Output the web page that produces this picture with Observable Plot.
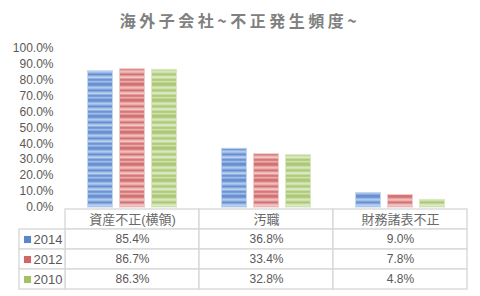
<!DOCTYPE html>
<html>
<head>
<meta charset="utf-8">
<script src="https://cdn.jsdelivr.net/npm/d3@7"></script>
<script src="https://cdn.jsdelivr.net/npm/@observablehq/plot@0.6"></script>
<style>
  html, body { margin: 0; padding: 0; background: #fff; }
  #wrap { position: relative; width: 480px; height: 296px; overflow: hidden; }
  #title { position: absolute; left: 0; top: 0; width: 480px; height: 40px; line-height: 41px; text-align: center;
    font-family: "Noto Sans CJK JP", sans-serif; font-weight: bold; font-size: 16px; letter-spacing: 3.5px; color: #808080; }
  #chart { position: absolute; left: 0; top: 36px; }
  #table { position: absolute; left: 0; top: 206px; }
</style>
</head>
<body>
<svg width="0" height="0" style="position:absolute">
  <defs>
    <pattern id="p2014" patternUnits="userSpaceOnUse" width="4" height="16">
      <rect width="4" height="16" fill="#7ba1da"/>
      <rect y="0" width="4" height="1" fill="#6690d2"/>
      <rect y="1" width="4" height="1" fill="#7199d6"/>
      <rect y="2" width="4" height="1" fill="#98b6e4"/>
      <rect y="3" width="4" height="1" fill="#b3c9ec"/>
      <rect y="4" width="4" height="1" fill="#a2bde7"/>
      <rect y="5" width="4" height="1" fill="#7fa4db"/>
      <rect y="6" width="4" height="1" fill="#6690d2"/>
      <rect y="7" width="4" height="1" fill="#86a9dd"/>
      <rect y="8" width="4" height="1" fill="#aac3ea"/>
      <rect y="9" width="4" height="1" fill="#bcd0ee"/>
      <rect y="10" width="4" height="1" fill="#93b2e2"/>
      <rect y="11" width="4" height="1" fill="#6c95d4"/>
      <rect y="12" width="4" height="1" fill="#779fd8"/>
      <rect y="13" width="4" height="1" fill="#a0bbe6"/>
      <rect y="14" width="4" height="1" fill="#8aacde"/>
      <rect y="15" width="4" height="1" fill="#6690d2"/>
    </pattern>
    <pattern id="p2012" patternUnits="userSpaceOnUse" width="4" height="16">
      <rect width="4" height="16" fill="#de8a8a"/>
      <rect y="0" width="4" height="1" fill="#d47272"/>
      <rect y="1" width="4" height="1" fill="#d87c7c"/>
      <rect y="2" width="4" height="1" fill="#e6a4a4"/>
      <rect y="3" width="4" height="1" fill="#eebebe"/>
      <rect y="4" width="4" height="1" fill="#e9b0b0"/>
      <rect y="5" width="4" height="1" fill="#dd8c8c"/>
      <rect y="6" width="4" height="1" fill="#d47272"/>
      <rect y="7" width="4" height="1" fill="#e09494"/>
      <rect y="8" width="4" height="1" fill="#ecb8b8"/>
      <rect y="9" width="4" height="1" fill="#f1c6c6"/>
      <rect y="10" width="4" height="1" fill="#e39e9e"/>
      <rect y="11" width="4" height="1" fill="#d67878"/>
      <rect y="12" width="4" height="1" fill="#da8282"/>
      <rect y="13" width="4" height="1" fill="#e8acac"/>
      <rect y="14" width="4" height="1" fill="#e09696"/>
      <rect y="15" width="4" height="1" fill="#d47272"/>
    </pattern>
    <pattern id="p2010" patternUnits="userSpaceOnUse" width="4" height="16">
      <rect width="4" height="16" fill="#bbd38e"/>
      <rect y="0" width="4" height="1" fill="#aac874"/>
      <rect y="1" width="4" height="1" fill="#b2cd80"/>
      <rect y="2" width="4" height="1" fill="#c8dca4"/>
      <rect y="3" width="4" height="1" fill="#d8e6bd"/>
      <rect y="4" width="4" height="1" fill="#cfe0ae"/>
      <rect y="5" width="4" height="1" fill="#bcd38f"/>
      <rect y="6" width="4" height="1" fill="#aac874"/>
      <rect y="7" width="4" height="1" fill="#c0d696"/>
      <rect y="8" width="4" height="1" fill="#d4e4b6"/>
      <rect y="9" width="4" height="1" fill="#dce9c4"/>
      <rect y="10" width="4" height="1" fill="#c6db9f"/>
      <rect y="11" width="4" height="1" fill="#aeca7a"/>
      <rect y="12" width="4" height="1" fill="#b5cf85"/>
      <rect y="13" width="4" height="1" fill="#cde0aa"/>
      <rect y="14" width="4" height="1" fill="#c0d696"/>
      <rect y="15" width="4" height="1" fill="#aac874"/>
    </pattern>
  </defs>
</svg>
<div id="wrap">
  <div id="title">海外子会社~不正発生頻度~</div>
  <div id="chart"></div>
  <div id="table"></div>
</div>
<script>
const categories = ["資産不正(横領)", "汚職", "財務諸表不正"];
const series = ["2014", "2012", "2010"];
const values2014 = [0.854, 0.368, 0.090];
const values2012 = [0.867, 0.334, 0.078];
const values2010 = [0.863, 0.328, 0.048];
const yTicks = [0, 0.1, 0.2, 0.3, 0.4, 0.5, 0.6, 0.7, 0.8, 0.9, 1.0];

const seriesValues = {"2014": values2014, "2012": values2012, "2010": values2010};
const swatch = {"2014": "#5b87c9", "2012": "#d06666", "2010": "#a3c266"};
const edge = {"2014": "#c4d5ef", "2012": "#f0caca", "2010": "#dbe8c4"};

const data = [];
for (const s of series) categories.forEach((c, i) => data.push({category: c, series: s, value: seriesValues[s][i]}));

const font = `"Liberation Sans", "Noto Sans CJK JP", sans-serif`;
const fmt = d3.format(".1%");

const chart = Plot.plot({
  width: 480,
  height: 180,
  marginTop: 11.5,
  marginBottom: 9,
  marginLeft: 65,
  marginRight: 13,
  style: {fontFamily: font, fontSize: "12px", color: "#595959", background: "transparent", overflow: "visible"},
  fx: {domain: categories, padding: 0, axis: null},
  x: {domain: series, paddingInner: 0.1875, paddingOuter: 0.6875, axis: null},
  y: {domain: [0, 1], ticks: yTicks, tickFormat: fmt, tickSize: 0, tickPadding: 12, label: null},
  color: {domain: series, range: series.map(s => `url(#p${s})`), legend: false},
  marks: [
    Plot.barY(data, {fx: "category", x: "series", y: "value", fill: "series", stroke: d => edge[d.series], strokeWidth: 1, insetLeft: 0.5, insetRight: 0.5})
  ]
});
document.getElementById("chart").append(chart);

const rows = ["header", ...series];
const cells = [];
for (const c of categories) cells.push({category: c, row: "header", text: c});
for (const s of series) categories.forEach((c, i) => cells.push({category: c, row: s, text: fmt(seriesValues[s][i])}));

const table = Plot.plot({
  width: 480,
  height: 90,
  marginTop: 1,
  marginBottom: 6,
  marginLeft: 65,
  marginRight: 13,
  style: {fontFamily: font, fontSize: "12px", color: "#595959", background: "transparent"},
  x: {domain: categories, padding: 0, axis: null},
  y: {domain: rows, padding: 0, axis: null},
  marks: [
    Plot.cell(cells, {x: "category", y: "row", fill: "white", stroke: "#d9d9d9", strokeWidth: 1.4}),
    Plot.cell(series, {y: d => d, insetLeft: -46, insetRight: 402, fill: "white", stroke: "#d9d9d9", strokeWidth: 1.4}),
    Plot.text(cells.filter(d => d.row === "header"), {x: "category", y: "row", text: "text", fill: "#6a6a6a", fontSize: 13}),
    Plot.text(cells.filter(d => d.row !== "header"), {x: "category", y: "row", text: "text", fill: "#595959", fontSize: 12}),
    Plot.dot(series, {y: d => d, frameAnchor: "left", dx: -38, symbol: "square", r: 4, fill: d => swatch[d]}),
    Plot.text(series, {y: d => d, text: d => d, frameAnchor: "left", dx: -32, textAnchor: "start", fill: "#595959", fontSize: 13})
  ]
});
document.getElementById("table").append(table);
</script>
</body>
</html>
